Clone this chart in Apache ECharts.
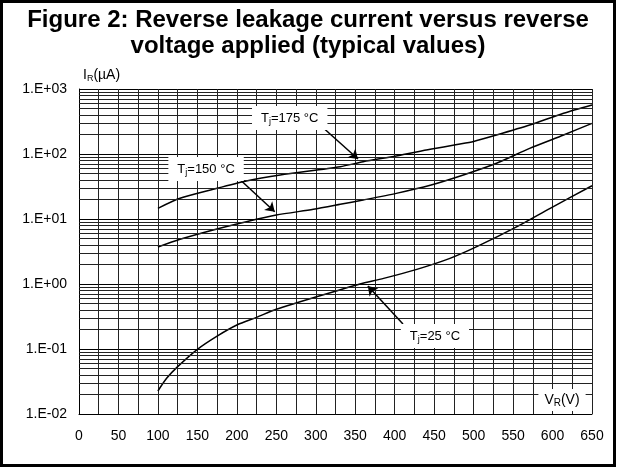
<!DOCTYPE html>
<html><head><meta charset="utf-8">
<script src="https://cdn.jsdelivr.net/npm/echarts@6/dist/echarts.min.js"></script>
<style>html,body{margin:0;padding:0;background:#fff}#c{width:626px;height:468px}</style>
</head><body><div id="c"></div>
<script>
// ---- data ----
const vr175 = [100,128,170,212,255,331,360,402,445,479,500,529,571,614,650];
const ir175 = [14.6,20.8,28.6,38.4,47.5,63.8,76.2,93.1,118,140,156,196,279,423,567];
const vr150 = [100,128,170,212,250,297,331,360,402,445,487,529,571,614,650];
const ir150 = [3.7,4.87,6.78,9.08,11.5,14.1,16.8,19.6,24.8,33,47.5,71.9,122,196,296];
const vr25 = [100,111,125,150,175,200,225,250,276,301,327,356,386,428,470,504,555,597,650];
const ir25 = [0.0226,0.0354,0.0535,0.0989,0.158,0.234,0.307,0.408,0.515,0.638,0.789,1.0,1.22,1.68,2.48,3.75,7.62,14.6,32.5];
const xTickValues = [0,50,100,150,200,250,300,350,400,450,500,550,600,650];
const yTickLabels = ['1.E-02','1.E-01','1.E+00','1.E+01','1.E+02','1.E+03'];
const seriesNames = ['Tj=175 °C','Tj=150 °C','Tj=25 °C'];
// annotation anchors in data units: [labelX, labelY, arrowFromX, arrowFromY, arrowToX, arrowToY]
const annot175 = [267, 358, 304, 290, 353.5, 83.8];
const annot150 = [161, 58.7, 197.7, 47.5, 248, 12.9];
const annot25  = [451, 0.158, 410.5, 0.243, 366, 0.93];
const vrLabelPos = [612, 0.0164];

const minorMult = [2,3,4,5,6,7,8,9];
const decades = [0.01,0.1,1,10,100];
const minorVals = [];
decades.forEach(d => minorMult.forEach(m => minorVals.push(+(m*d).toPrecision(3))));

const FONT = 'Liberation Sans, Arial, sans-serif';
const pair = (xs, ys) => xs.map((x, i) => [x, ys[i]]);
const richT = {
  a: {fontSize: 13, fontFamily: FONT, color: '#000', lineHeight: 16},
  s: {fontSize: 9, fontFamily: FONT, color: '#000', lineHeight: 8, verticalAlign: 'bottom'}
};
function labelPt(a, txt) {
  return {coord: [a[0], a[1]], label: {formatter: txt}};
}
function arrow(a) {
  return [{coord: [a[2], a[3]]}, {coord: [a[4], a[5]]}];
}

const chart = echarts.init(document.getElementById('c'), null, {renderer: 'canvas'});
chart.setOption({
  animation: false,
  backgroundColor: '#fff',
  title: {
    text: 'Figure 2: Reverse leakage current versus reverse\nvoltage applied (typical values)',
    left: 303, top: 2, textAlign: 'center',
    textStyle: {fontFamily: FONT, fontWeight: 'bold', fontSize: 24, lineHeight: 26, color: '#000'}
  },
  graphic: [{
    type: 'rect', silent: true, z: 100,
    shape: {x: 1.5, y: 1.5, width: 613, height: 464},
    style: {fill: 'none', stroke: '#000', lineWidth: 3}
  }],
  grid: {left: 79, right: 34, top: 89, bottom: 54},
  xAxis: {
    type: 'value', min: 0, max: 650, interval: 50,
    axisLine: {show: true, lineStyle: {color: '#000', width: 1}},
    axisTick: {show: false},
    axisLabel: {fontFamily: FONT, fontSize: 14, color: '#000', margin: 15,
      formatter: v => xTickValues.indexOf(v) >= 0 ? String(v) : ''},
    splitLine: {show: true, lineStyle: {color: '#222', width: 1}},
    minorTick: {show: false, splitNumber: 2},
    minorSplitLine: {show: true, lineStyle: {color: '#222', width: 1}}
  },
  yAxis: {
    type: 'log', logBase: 10, min: 0.01, max: 1000,
    name: '{a|I}{s|R}{a|(µA)}', nameLocation: 'end', nameGap: 6,
    nameTextStyle: {align: 'left', padding: [0, 0, 0, 4],
      rich: {a: {fontSize: 14, fontFamily: FONT, color: '#000', lineHeight: 16},
             s: {fontSize: 9, fontFamily: FONT, color: '#000', lineHeight: 8, verticalAlign: 'bottom'}}},
    axisLine: {show: true, lineStyle: {color: '#000', width: 1}},
    axisTick: {show: false},
    axisLabel: {fontFamily: FONT, fontSize: 14, color: '#000', margin: 12,
      formatter: v => yTickLabels[Math.round(Math.log10(v)) + 2] || ''},
    splitLine: {show: true, lineStyle: {color: '#000', width: 1}}
  },
  series: [
    {
      type: 'line', name: 'minor', data: [], z: 1, silent: true,
      markLine: {silent: true, symbol: ['none', 'none'], label: {show: false},
        lineStyle: {color: '#222', width: 1, type: 'solid'},
        emphasis: {disabled: true},
        data: minorVals.map(v => ({yAxis: v}))}
    },
    {type: 'line', name: seriesNames[0], data: pair(vr175, ir175), showSymbol: false, smooth: 0.25, z: 3,
      lineStyle: {color: '#000', width: 1.5}},
    {type: 'line', name: seriesNames[1], data: pair(vr150, ir150), showSymbol: false, smooth: 0.25, z: 3,
      lineStyle: {color: '#000', width: 1.5}},
    {type: 'line', name: seriesNames[2], data: pair(vr25, ir25), showSymbol: false, smooth: 0.25, z: 3,
      lineStyle: {color: '#000', width: 1.5}},
    {
      type: 'line', name: 'annotations', data: [], z: 6, silent: true,
      markLine: {silent: true, symbol: ['none', 'arrow'], symbolSize: 9, label: {show: false},
        lineStyle: {color: '#000', width: 1.5, type: 'solid'},
        emphasis: {disabled: true},
        data: [arrow(annot175), arrow(annot150), arrow(annot25)]},
      markPoint: {silent: true, symbol: 'rect', symbolSize: 0,
        itemStyle: {color: 'transparent'},
        label: {show: true, position: 'inside', backgroundColor: '#fff', padding: [4, 9], rich: richT},
        data: [
          labelPt(annot175, '{a|T}{s|j}{a|=175 °C}'),
          labelPt(annot150, '{a|T}{s|j}{a|=150 °C}'),
          labelPt(annot25, '{a|T}{s|j}{a|=25 °C}'),
          {coord: vrLabelPos, label: {formatter: '{b|V}{t|R}{b|(V)}', padding: [3, 6],
            rich: {b: {fontSize: 14, fontFamily: FONT, color: '#000', lineHeight: 16},
                   t: {fontSize: 10, fontFamily: FONT, color: '#000', lineHeight: 12, verticalAlign: 'bottom'}}}}
        ]}
    }
  ]
});
</script>
</body></html>
